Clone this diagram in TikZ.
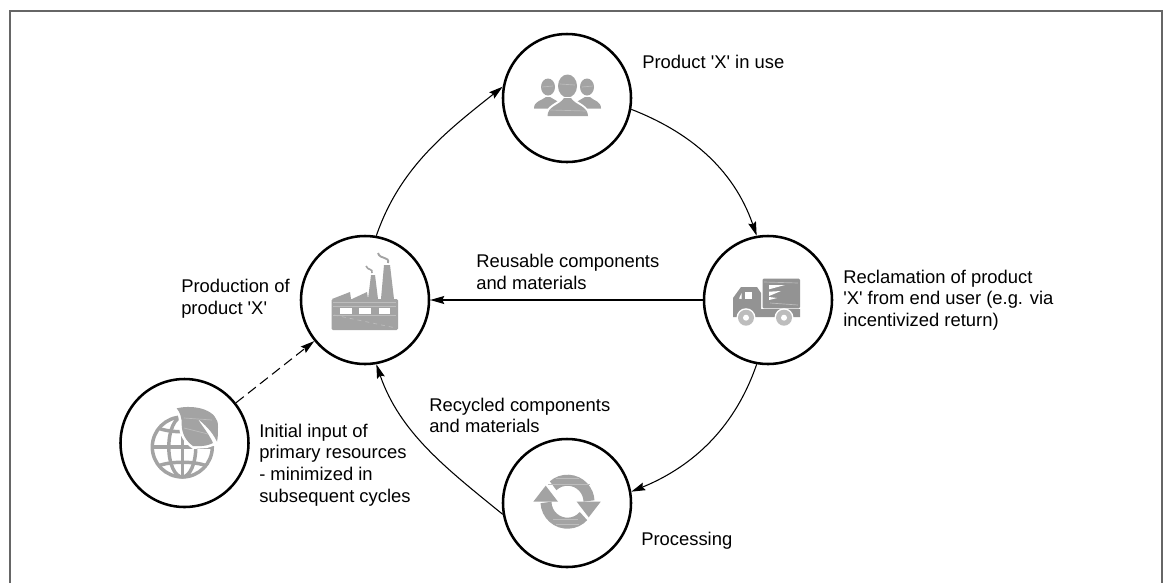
\documentclass[tikz,border=0pt]{standalone}
\usepackage{fontspec}
\setmainfont{Liberation Sans}
\usetikzlibrary{arrows.meta}
\definecolor{icongray}{HTML}{A3A3A3}
\definecolor{iconlight}{HTML}{BDBDBD}
\definecolor{framegray}{HTML}{666666}
\definecolor{truckgray}{HTML}{939393}
\newcommand{\qt}{\textquotesingle}
\tikzset{
  hub/.style={circle,draw=black,line width=1.9pt,fill=white,minimum size=96pt,inner sep=0pt},
  lab/.style={anchor=west,align=left,inner sep=0pt,font=\fontsize{13.8}{16.3}\selectfont},
  flow/.style={line width=0.8pt,-{Stealth[length=10.5pt,width=6pt,inset=1.5pt]}},
  ico/.style={fill=icongray,draw=none},
  trk/.style={fill=truckgray,draw=none},
  cut/.style={fill=white,draw=none},
  streak/.style={draw=iconlight,line width=0.5pt},
  glb/.style={draw=icongray,line width=2.6pt,fill=none}
}
\begin{document}
\begin{tikzpicture}[x=0.75pt,y=-0.75pt]
\useasboundingbox (0,0) rectangle (1165,583);
\draw[framegray,line width=1.5pt] (10,583) -- (10,10.5) -- (1162,10.5) -- (1162,583);

\node[hub] (people) at (567,98) {};
\node[hub] (factory) at (365,300) {};
\node[hub] (truck) at (768,300) {};
\node[hub] (proc) at (567,503) {};
\node[hub] (globe) at (184.5,443) {};

\draw[flow] (factory.80) .. controls (400,167) and (447,131) .. (people.170);
\draw[flow] (people.-10) .. controls (687,131) and (733,167) .. (truck.100);
\draw[flow] (truck.-100) .. controls (733,433) and (687,469) .. (proc.10);
\draw[flow] (proc.190) .. controls (447,469) and (400,433) .. (factory.-80);
\draw[flow] (truck.180) -- (factory.0);
\draw[flow,dash pattern=on 7.5pt off 4pt] (globe.38) -- (factory.219);

% people icon
\begin{scope}
\fill[ico] (548,87) ellipse (7 and 8.5);
\fill[ico] (587,87) ellipse (7 and 8.5);
\fill[ico] (534,108.5) .. controls (534,101) and (541,101) .. (546,97) -- (550,97) .. controls (556,101) and (562,102) .. (562,108.5) -- cycle;
\fill[ico] (573,108.5) .. controls (573,102) and (579,101) .. (585,97) -- (590,97) .. controls (594,101) and (601,101) .. (601,108.5) -- cycle;
\fill[cut] (567.5,86) ellipse (11 and 13);
\fill[ico] (567.5,86) ellipse (9.5 and 11.5);
\fill[cut] (545,117) .. controls (545,105) and (558,103) .. (563,97) -- (572,97) .. controls (577,103) and (590,105) .. (590,117) -- cycle;
\fill[ico] (547.5,116) .. controls (547.5,106) and (560,105) .. (564,98) -- (571,98) .. controls (575,105) and (588,106) .. (588,116) -- cycle;
\draw[streak] (560,84) -- (575,85);
\draw[streak] (550,110) -- (586,111);
\draw[streak] (542,87) -- (553,86);
\draw[streak] (582,87) -- (593,86);
\end{scope}

% factory icon
\begin{scope}
\fill[ico] (332,299) -- (350,292) -- (351,299) -- (352,299) -- (367,292) -- (368,299) -- cycle;
\fill[ico] (368,299) -- (371,275) -- (375,275) -- (378,299) -- cycle;
\fill[ico] (381,299) -- (384,265) -- (390,265) -- (394,299) -- cycle;
\fill[ico,rounded corners=1pt] (331.5,299) rectangle (398,330);
\draw[icongray,line width=1.2pt] (372,273) .. controls (373,268) and (368,271) .. (366,266);
\draw[icongray,line width=1.4pt] (388,263) .. controls (390,256) and (380,260) .. (378,253);
\fill[cut] (340,308) rectangle (351.5,314);
\fill[cut] (359,308) rectangle (371,314);
\fill[cut] (378.7,308) rectangle (390,314);
\draw[streak] (333,302) -- (396,302);
\draw[streak] (333,306) -- (396,306);
\draw[streak] (333,315.5) -- (396,315.5);
\draw[streak,dashed] (334,315) -- (396,328);
\end{scope}

% truck icon
\begin{scope}
\fill[trk,rounded corners=0.8pt] (762.7,278.7) rectangle (800,308.3);
\fill[trk] (733,317) -- (733,298) -- (741,287) -- (757,287) -- (761,293) -- (761,309) -- (800,309) -- (800,317) -- cycle;
\fill[cut] (745,291.7) rectangle (752.3,299);
\fill[cut] (739,298.5) -- (741.7,293) -- (741.7,299) -- cycle;
\fill[cut] (769,285) -- (785,285) -- (769,289.3) -- cycle;
\fill[cut] (769,291.7) -- (781,291) -- (769,296) -- cycle;
\fill[cut] (769,297) -- (777,298) -- (769,300) -- cycle;
\draw[streak] (764,282) -- (798,283);
\draw[streak] (770,303) -- (798,305);
\fill[cut] (746,317.7) circle (9.5);
\fill[cut] (784,317.7) circle (9.5);
\fill[iconlight] (746,317.7) circle (8);
\fill[iconlight] (784,317.7) circle (8);
\fill[cut] (746,317.7) circle (3);
\fill[cut] (784,317.7) circle (3);
\end{scope}

% processing icon
\begin{scope}
\draw[draw=icongray,line width=8.25pt] (567.5,501.7) ++(-132:21.5) arc (-132:-2:21.5);
\draw[draw=icongray,line width=8.25pt] (567.5,501.7) ++(42:21.5) arc (42:178:21.5);
\fill[ico] (576.7,501.7) -- (600.7,501.7) -- (588.7,517.3) -- cycle;
\fill[ico] (533.3,501.7) -- (558,501.7) -- (545.7,485.7) -- cycle;
\draw[streak] (556,478) -- (579,478);
\draw[streak] (548,484) -- (590,484);
\draw[streak] (553,519) -- (578,519);
\draw[streak] (556,524) -- (579,524);
\end{scope}

% globe icon
\begin{scope}
\draw[glb] (182.3,447) circle (30);
\draw[glb] (182.3,447) ellipse (13.5 and 30);
\draw[glb] (182.3,417) -- (182.3,477);
\draw[glb] (152,447) -- (213,447);
\draw[glb] (158,428) .. controls (170,433) and (195,433) .. (207,428);
\draw[glb] (158,466) .. controls (170,461) and (195,461) .. (207,466);
\fill[cut] (174,405) .. controls (195,400) and (222,408) .. (221,428) .. controls (221,435) and (220,440) .. (219,444) -- (207,448) -- (193,449) .. controls (184,443) and (179,435) .. (179,425) .. controls (179,418) and (178,412) .. (174,405) -- cycle;
\fill[ico] (176.7,408.3) .. controls (195,404) and (219,410) .. (218,427) .. controls (218,433) and (218,437) .. (217,441.7) .. controls (212,431) and (204,424) .. (198,419) .. controls (201,425) and (208,432) .. (213,443) .. controls (205,447) and (198,446) .. (193,446) .. controls (186,441) and (182,434) .. (181.7,425) .. controls (182,418) and (180,412) .. (176.7,408.3) -- cycle;
\draw[streak] (184,418) -- (212,420);
\draw[streak] (184,428) -- (208,434);
\end{scope}

\node[lab] (t1) at (642,62) {Product \qt X\qt{} in use};
\node[lab] (t2) at (843,300) {Reclamation of product\\\qt X\qt{} from end user (e.g. via\\incentivized return)};
\node[lab] (t3) at (476,272) {Reusable components\\and materials};
\node[lab] (t4) at (181,298.5) {Production of\\product \qt X\qt};
\node[lab] (t5) at (429,415.5) {Recycled components\\and materials};
\node[lab] (t6) at (259,465) {Initial input of\\primary resources\\- minimized in\\subsequent cycles};
\node[lab] (t7) at (641,541) {Processing};
\end{tikzpicture}
\end{document}
